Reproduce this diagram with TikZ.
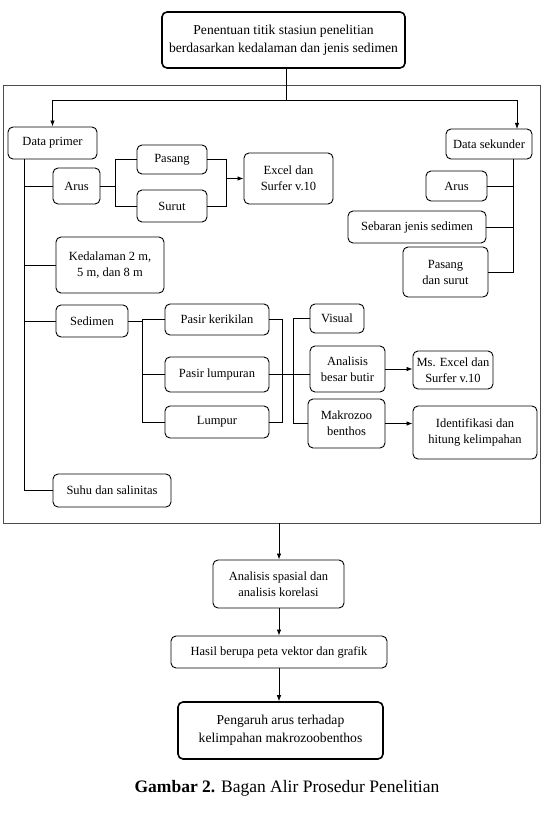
\documentclass[tikz,border=0pt]{standalone}
\usepackage{fontspec}
\setmainfont{Liberation Serif}
\usetikzlibrary{arrows.meta}
\tikzset{
  box/.style={draw, rounded corners=5pt, fill=white, line width=0.9pt, align=center, inner sep=1pt,
     font=\fontsize{12.5}{16}\selectfont},
  bigbox/.style={box, line width=1.6pt, font=\fontsize{13.6}{18}\selectfont},
  conn/.style={line width=0.8pt},
  arr/.style={conn, -{Latex[length=6pt,width=4.5pt]}},
  frame/.style={line width=0.9pt, draw=black!70}
}
\newcommand{\bx}[6]{\node[#1, minimum width=#4pt, minimum height=#5pt] (#2) at #3 {#6};}
\begin{document}
\begin{tikzpicture}[x=1pt,y=-1pt]
\useasboundingbox (0,0) rectangle (549,821);
\draw[frame] (3,85) rectangle (540,523);
% nodes
\bx{bigbox}{top}{(283.5,40)}{243}{56}{Penentuan titik stasiun penelitian\\berdasarkan kedalaman dan jenis sedimen}
\bx{box}{dp}{(52.5,143)}{89}{32}{Data primer}
\bx{box}{ds}{(489,144)}{86}{30}{Data sekunder}
\bx{box}{arusa}{(76.5,186)}{47}{36}{Arus}
\bx{box}{pasang}{(172,159.5)}{70}{29}{Pasang}
\bx{box}{surut}{(172,206)}{70}{32}{Surut}
\bx{box}{excela}{(288.5,178.5)}{89}{51}{Excel dan\\Surfer v.10}
\bx{box}{arusb}{(456.5,186)}{61}{30}{Arus}
\bx{box}{sebaran}{(417,227)}{138}{32}{Sebaran jenis sedimen}
\bx{box}{pds}{(445.5,272)}{85}{50}{Pasang\\dan surut}
\bx{box}{kedal}{(110,265)}{108}{56}{Kedalaman 2 m,\\5 m, dan 8 m}
\bx{box}{sedimen}{(92,321)}{72}{32}{Sedimen}
\bx{box}{pk}{(217,319.5)}{104}{31}{Pasir kerikilan}
\bx{box}{pl}{(217,374.5)}{104}{35}{Pasir lumpuran}
\bx{box}{lumpur}{(217,422)}{104}{32}{Lumpur}
\bx{box}{visual}{(337,318.5)}{54}{29}{Visual}
\bx{box}{abb}{(347.5,369)}{75}{46}{Analisis\\besar butir}
\bx{box}{makro}{(346.5,423.5)}{77}{49}{Makrozoo\\benthos}
\bx{box}{msexcel}{(453,370)}{80}{38}{Ms. Excel dan\\Surfer v.10}
\bx{box}{ident}{(475,432.5)}{124}{53}{Identifikasi dan\\hitung kelimpahan}
\bx{box}{suhu}{(112,490.5)}{118}{33}{Suhu dan salinitas}
\bx{box}{spasial}{(278.5,584)}{131}{48}{Analisis spasial dan\\analisis korelasi}
\bx{box}{hasil}{(279,652)}{216}{32}{Hasil berupa peta vektor dan grafik}
\bx{bigbox}{pengaruh}{(280.5,730.5)}{205}{57}{Pengaruh arus terhadap\\kelimpahan makrozoobenthos}
% coordinates
\coordinate (j) at (286,100);
\coordinate (dsin) at (517,129);
\coordinate (fb) at (279,523);
% top split
\draw[conn] (top.south -| j) -- (j);
\draw[arr] (j) -| (dp.north);
\draw[arr] (j) -| (dsin);
% data primer trunk
\draw[conn] ([xshift=17pt]dp.south west) |- (suhu.west);
\draw[conn] (arusa.west) -- ++(-28,0);
\draw[conn] (kedal.west) -- ++(-31,0);
\draw[conn] (sedimen.west) -- ++(-31,0);
% arus -> pasang/surut
\draw[conn] (arusa.east) -- ++(16,0);
\draw[conn] (pasang.west) -- ++(-21,0) |- (surut.west);
\draw[conn] (pasang.east) -- ++(19,0) |- (surut.east);
\draw[arr] (226,178.5) -- (excela.west);
% data sekunder trunk
\draw[conn] ([xshift=-19pt]ds.south east) |- (pds.east);
\draw[conn] (arusb.east) -- ++(26.5,0);
\draw[conn] (sebaran.east) -- ++(27,0);
% sedimen branches
\draw[conn] (sedimen.east) -- ++(15,0);
\draw[conn] (pk.west) -- ++(-22,0) |- (lumpur.west);
\draw[conn] (pl.west) -- ++(-22,0);
\draw[conn] (pk.east) -- ++(13,0) |- (lumpur.east);
\draw[conn] (pl.east) -- (pl.east -| abb.west);
\draw[conn] (visual.west) -- ++(-16,0) |- (makro.west);
\draw[arr] (abb.east) -- (msexcel.west |- abb.east);
\draw[arr] (makro.east) -- (ident.west |- makro.east);
% bottom chain
\draw[arr] (fb) -- (spasial.north -| fb);
\draw[arr] (spasial.south -| fb) -- (hasil.north -| fb);
\draw[arr] (hasil.south -| fb) -- (pengaruh.north -| fb);
% caption
\node[font=\fontsize{17.5}{20}\selectfont] (cap) at (287,788) {\textbf{Gambar 2.} Bagan Alir Prosedur Penelitian};
\end{tikzpicture}
\end{document}
